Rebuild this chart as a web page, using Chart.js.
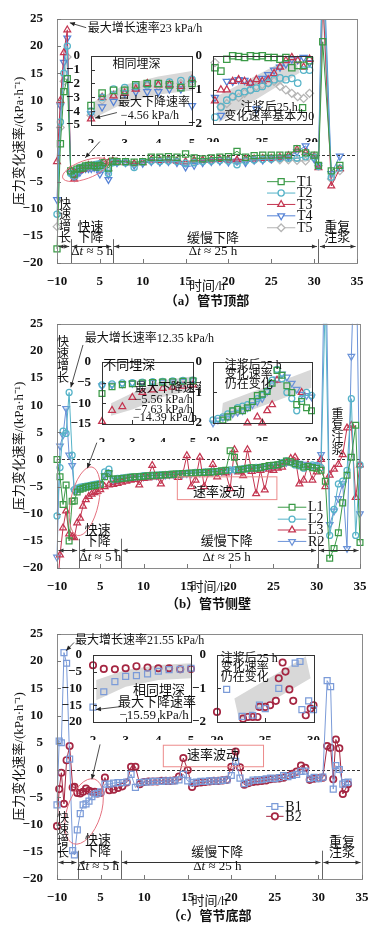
<!DOCTYPE html>
<html><head><meta charset="utf-8">
<script src="https://cdn.jsdelivr.net/npm/chart.js@4.4.1/dist/chart.umd.min.js"></script>
<style>
html,body{margin:0;padding:0;background:#fff;}
#wrap{position:relative;width:381px;height:935px;overflow:hidden;background:#fff;}
canvas{position:absolute;}
</style></head><body><div id="wrap"></div>
<script>
// ---------------- DATA ----------------
const xTickLabels = ['−10','5','10','15','20','25','30','35'];

// (a) pipe crown
const timeA = [0,0.4,0.8,1.2,1.6,2,2.33,2.67,3,3.33,3.67,4,4.33,4.67,5,5.5,6,6.5,7,8,9,10,11,12,13,14,15,16,17,18,19,20,21,22,23,24,25,26,27,28,29,30,30.5,31,32,33];
const T1 = [-17.4,2,11.6,14,-3,-3.6,-2.7,-2.5,-2.5,-2.1,-2.0,-2.0,-2.1,-2.3,-2.0,-1.5,-2.5,-1.2,-1.3,-1.3,-1.4,-1.3,-0.5,-0.5,-0.4,-0.5,0.1,-0.6,-0.8,-0.6,-0.5,-0.4,0.6,-0.5,-0.2,-0.1,-0.1,-0.1,-0.1,1.1,0.3,-0.1,-2.0,20.8,-3.0,-2.0];
const T2 = [-11,6,15,20,-3.5,-4.0,-3.0,-2.4,-2.3,-2.2,-2.1,-2.0,-1.9,-1.8,-1.7,-2.5,-3.5,-1.5,-1.4,-1.5,-2.4,-1.4,-1.2,-1.3,-1.2,-1.3,-1.6,-1.5,-1.3,-1.2,-1.1,-1.2,-1.9,-1.2,-1.0,-0.9,-0.8,-0.7,-0.7,-0.7,-0.4,-0.5,-2.2,35,-4.2,-2.5];
const T3 = [-1.3,10,18.8,23.0,-2.8,-4.56,-3.0,-2.9,-2.7,-2.4,-2.0,-2.1,-2.1,-2.2,-1.7,-1.3,-1.5,-1.2,-1.4,-1.5,-1.7,-1.5,-1.0,-1.1,-1.0,-1.2,-1.3,-1.1,-1.0,-1.0,-0.9,-1.0,-1.0,-0.8,-0.8,-0.7,-0.7,-0.5,-0.2,0.9,0.4,-0.3,-2.4,30,-5.8,-2.6];
const T4 = [-8.3,9,17,21.5,-3.5,-4.2,-3.7,-3.3,-2.7,-2.6,-2.6,-2.6,-2.4,-2.4,-3.6,-2.0,-4.6,-1.3,-1.5,-1.5,-2.0,-1.6,-1.3,-1.4,-1.3,-1.5,-2.3,-2.0,-1.5,-1.3,-1.2,-1.4,-1.2,-1.5,-1.0,-1.0,-0.8,-0.6,-0.4,0.5,1.6,-0.8,-2.0,40,-3.5,-0.3];
const T5 = [-13.3,5,13.5,18,-3.2,-4.3,-3.2,-2.8,-2.5,-2.3,-2.2,-2.2,-2.0,-2.0,-1.9,-1.6,-3.0,-1.2,-1.3,-1.4,-1.7,-1.4,-1.2,-1.2,-1.1,-1.2,-1.5,-1.3,-1.2,-1.1,-1.1,-1.0,-1.2,-1.1,-1.0,-0.9,-0.9,-1.0,-1.0,-1.1,-1.2,-0.7,-2.0,28,-4.5,-3.0];
// (a) right inset (20-30 h)
const insetA2Time = [20.2,20.8,21.4,22,22.6,23.2,23.8,24.4,25,25.6,26.2,26.8,27.4,28,28.6,29.2,29.8];
const insetA2_T1 = [-0.35,-0.45,-0.1,0,-0.02,-0.05,0,-0.02,0,-0.05,-0.05,-0.1,-0.05,-0.35,-0.28,-0.28,-0.14];
const insetA2_T2 = [-1.8,-1.5,-1.3,-1.2,-1.1,-1.05,-1.0,-0.95,-0.9,-0.8,-0.7,-0.65,-0.7,-0.66,-0.8,-0.42,-0.42];
const insetA2_T3 = [-1.32,-1.0,-1.0,-0.75,-0.7,-0.75,-0.8,-0.7,-0.75,-0.7,-0.52,-0.33,-0.14,-0.05,-0.14,-0.33,-0.1];
const insetA2_T4 = [-1.22,-1.75,-0.75,-0.75,-0.7,-0.72,-0.8,-1.56,-0.66,-0.55,-0.42,-0.33,-0.24,-0.1,-0.12,-0.05,-0.2];
const insetA2_T5 = [-0.2,-1.5,-1.4,-1.2,-1.22,-1.1,-1.0,-0.9,-0.85,-0.8,-0.75,-0.9,-1.0,-1.1,-1.2,-1.25,-1.1];

// (b) side wall
const timeB = [0,0.35,0.7,1.05,1.4,1.75,2,2.33,2.67,3,3.33,3.67,4,4.33,4.67,5,5.5,6,6.5,7,7.5,8,8.5,9,9.5,10,10.5,11,11.5,12,12.5,13,13.5,14,14.5,15,15.5,16,16.5,17,17.5,18,18.5,19,19.5,20,20.5,21,21.5,22,22.5,23,23.5,24,24.5,25,25.5,26,26.5,27,27.5,28,28.5,29,29.5,30,30.5,31,31.5,32,32.5,33,33.5,34,34.5,35];
const L1 = [0,-3.2,-8.3,-4.7,-15,-7.7,-7.63,-6.0,-5.5,-5.3,-5.1,-5.0,-4.9,-4.8,-4.7,-4.6,-3.2,-2.6,-3.6,-3.6,-3.5,-3.4,-3.3,-3.2,-3.2,-3.1,-3.0,-3.0,-2.9,-2.9,-2.8,-2.8,-2.7,-2.7,-2.6,-2.6,-2.5,-2.5,-2.4,-2.4,-2.3,-2.3,-2.2,-2.1,-2.0,1.6,0.4,-1.9,-1.8,-1.6,-1.55,-1.6,-1.5,-1.3,-1.1,-1.06,-0.97,-0.7,-0.28,-0.44,-0.78,-1.0,-1.4,-1.3,-1.5,-1.6,-2,-4,-18.2,-16.4,-13.5,-8,-2.9,0.4,6.3,-15.3];
const L2 = [-10.4,-1.5,5.2,4.8,12.35,0.8,-5.56,-5.3,-5.1,-5.0,-4.9,-4.8,-4.7,-4.6,-4.5,-4.4,-2.3,-1.8,-3.6,-3.5,-3.4,-3.3,-3.2,-3.2,-3.1,-3.0,-3.0,-2.9,-2.9,-2.8,-2.8,-2.7,-2.7,-2.6,-2.6,-2.5,-2.5,-2.4,-2.4,-2.3,-2.3,-2.2,-2.2,-2.1,-2.0,-1.9,-1.85,-1.8,-1.7,-1.6,-1.5,-1.45,-1.4,-1.3,-1.2,-1.1,-0.95,-0.6,-0.25,-0.56,-1.0,-1.2,-1.6,-1.2,-1.0,-1.1,-1.5,30,-14,-9.2,-4.5,-4.0,-2,11.2,-14,-1];
const L3 = [-25,-17.6,-12.6,-9.5,-13.7,-14.2,-14.39,-11.7,-10.8,-8.6,-7.4,-6.8,-6.4,-6.1,-5.9,-5.56,-5.0,-4.7,-4.6,-4.4,-4.2,-4.0,-3.8,-3.7,-4.7,-3.5,-3.4,-1.1,-3.2,-4.5,-3.0,-3.0,-2.9,-3.3,-2.8,0.7,-5.0,-3.8,0.4,-5.0,-2.6,-0.9,-3.2,-2.4,-2.5,-5.4,1.8,-2.3,-3.0,1.8,-2.2,-6.3,-2.0,-5.6,-1.8,-2.0,-1.6,-1.4,-0.6,0.2,0.4,-4.5,-3.8,-1.0,-3.8,-2.3,0.0,-5,-2.9,-1.8,-0.9,0.9,5.8,6.3,-7,-1];
const R2 = [-18,2.5,4.5,9.4,0.8,-1.1,-5.8,-5.6,-5.4,-5.2,-5.1,-5.0,-4.9,-4.8,-4.7,-4.6,-3.0,-2.5,-3.8,-3.7,-3.5,-3.4,-3.4,-3.3,-3.2,-3.2,-3.1,-3.0,-3.0,-2.9,-2.9,-2.8,-2.8,-2.7,-2.7,-2.6,-2.6,-2.5,-2.5,-2.4,-2.4,-2.3,-2.3,-2.2,-2.1,-2.0,-1.9,-1.82,-1.8,-1.7,-1.65,-1.6,-1.5,-1.4,-1.3,-1.2,-0.97,-0.7,-0.56,-0.4,-0.5,-0.7,-0.9,-1.06,-1.1,-1.15,0.9,45,-12,-9.5,-7.2,-4.5,-16.4,19,45,-10];

// (c) invert
const timeC = [0,0.25,0.5,0.8,1.1,1.45,1.8,2,2.33,2.67,3,3.33,3.67,4,4.33,4.67,5,5.5,6,6.5,7,7.5,8,8.5,9,9.5,10,10.5,11,11.5,12,12.5,13,13.5,14,14.5,15,15.5,16,16.5,17,17.5,18,18.5,19,19.5,20,20.5,21,21.5,22,22.5,23,23.5,24,24.5,25,25.5,26,26.5,27,27.5,28,28.5,29,29.5,30,30.5,31,31.4,31.7,32,32.4,32.8,33.1,33.4];
const B1 = [-6.4,5.3,5.0,21.55,19.6,2.0,-14.8,-15.59,-11.0,-8.0,-6.4,-6.2,-5.7,-4.9,-4.4,-4.3,-4.0,-2.6,-2.6,-2.4,-2.3,-2.3,-2.2,-0.8,-3.2,-2.3,-2.2,-2.2,-2.1,-2.1,-2.1,-2.0,-2.0,-2.0,-1.8,-0.8,-2.0,-2.3,-2.2,-2.1,-2.1,-2.0,-2.0,-2.0,-1.9,-1.8,-1.0,1.6,-1.5,-2.5,-2.2,-1.85,-1.8,-1.75,-1.6,-1.5,-1.6,-1.4,-1.0,-1.2,-1.0,-0.8,-0.25,-0.2,-1.6,-1.35,-1.6,-1.3,16.4,15.3,-3.5,0.8,0.1,-2.6,-2.3,-2.2];
const B2 = [-10.3,-3.5,-0.5,-6.2,1.8,4.4,-3.2,-3.1,-4.2,-4.3,-4.0,-3.4,-3.8,-4.0,-4.0,-4.3,-4.2,-1.4,-3.7,-3.6,-3.3,-3.0,-2.3,0.6,0.6,-2.6,-2.2,-2.1,-2.1,-2.1,-2.0,-2.0,-2.0,-1.9,-1.2,2.2,0.0,-3.1,-2.4,-2.3,-2.2,-2.1,-2.0,-2.0,-1.9,-1.8,0.6,3.4,0.5,-2.7,-2.4,-2.2,-2.1,-2.0,-1.9,-1.7,-1.6,-1.55,-1.4,-1.1,-0.7,-0.3,0.8,0.4,-1.8,-1.6,-1.5,-1.4,4.4,4.1,-1.7,5.6,4.0,-4.4,-3.5,-2.6];
// (c) right inset (20-30 h)
const insetC2Time_B1 = [21,22.6,23.7,24.4,25,26.4,28.1,28.6,28.8,29.5,30];
const insetC2_B1 = [-1.03,-1.83,-1.8,-1.5,-1.6,-1.0,-0.25,-0.2,-1.63,-1.37,-1.63];
const insetC2Time_B2 = [20,22.7,23.2,23.7,24.2,24.4,25,25.5,26.1,26.4,26.8,27.1,27.5,27.9,29.2,29.7,30];
const insetC2_B2 = [-1.7,-1.9,-1.85,-1.85,-1.85,-1.55,-1.55,-1.5,-1.37,-0.7,-0.23,-0.5,-1.03,-1.37,-1.8,-1.6,-1.5];

// ---------------- STYLE ----------------
const FONT = '"Liberation Serif","Noto Sans CJK SC",serif';
const f = (s, w) => (w || 'normal') + ' ' + s + 'px ' + FONT;
const STY = {
  T1:{color:'#3b9a47',style:'rect',rot:0,r:4.3},
  T2:{color:'#56b3c8',style:'circle',rot:0,r:3.1},
  T3:{color:'#c43550',style:'triangle',rot:0,r:3.9},
  T4:{color:'#5683d6',style:'triangle',rot:180,r:3.9},
  T5:{color:'#b5b5b5',style:'rectRot',rot:0,r:3.8},
  L1:{color:'#3b9a47',style:'rect',rot:0,r:4.1},
  L2:{color:'#56b3c8',style:'circle',rot:0,r:3.0},
  L3:{color:'#c43550',style:'triangle',rot:0,r:3.9},
  R2:{color:'#6b93d8',style:'triangle',rot:180,r:3.8},
  B1:{color:'#7b9bd8',style:'rect',rot:0,r:4.2},
  B2:{color:'#a52642',style:'circle',rot:0,r:3.2,bw:1.7}
};

function pts(xs, ys, lo, hi){
  const out=[];
  xs.forEach((x,i)=>{const y=ys[i]; if(y===null||y===undefined) return;
    if(lo!==undefined && (x<lo-1e-6||x>hi+1e-6)) return; out.push({x:x,y:y});});
  return out;
}
function mkDs(label, xs, ys, st, opt){
  opt=opt||{};
  const line = opt.line!==false;
  return {label:label, data:pts(xs,ys,opt.lo,opt.hi), borderColor:st.color, backgroundColor:'rgba(0,0,0,0)',
    borderWidth: line?1:0, showLine: line, pointStyle: st.style, pointRotation: st.rot,
    pointRadius: st.r*(opt.rs||1), pointBorderWidth: st.bw||1.25, pointBorderColor: st.color,
    pointBackgroundColor:'rgba(255,255,255,0)', tension:0,
    clip: opt.clip || {left:6,right:4,top:0,bottom:0}};
}
function fmt(v){ v=Math.round(v*100)/100; return (v<0?'−':'')+Math.abs(v); }

function drawMarker(c, st, x, y){
  const r=st.r; c.save(); c.strokeStyle=st.color; c.lineWidth=st.bw||1.25; c.fillStyle='#fff'; c.beginPath();
  if(st.style==='circle'){ c.arc(x,y,r,0,2*Math.PI); }
  else if(st.style==='rect'){ const s=r*Math.SQRT1_2; c.rect(x-s,y-s,2*s,2*s); }
  else if(st.style==='rectRot'){ c.moveTo(x,y-r); c.lineTo(x+r,y); c.lineTo(x,y+r); c.lineTo(x-r,y); c.closePath(); }
  else { let rad=(st.rot||0)*Math.PI/180; for(let k=0;k<3;k++){const X=x+Math.sin(rad)*r, Y=y-Math.cos(rad)*r; if(k) c.lineTo(X,Y); else c.moveTo(X,Y); rad+=2*Math.PI/3;} c.closePath(); }
  c.fill(); c.stroke(); c.restore();
}
function head(c, x, y, ang, len, w){
  c.beginPath(); c.moveTo(x,y);
  c.lineTo(x-len*Math.cos(ang)+w*Math.sin(ang), y-len*Math.sin(ang)-w*Math.cos(ang));
  c.lineTo(x-len*Math.cos(ang)-w*Math.sin(ang), y-len*Math.sin(ang)+w*Math.cos(ang));
  c.closePath(); c.fill();
}
function drawRich(c, parts, x, y, size){
  let total=0; const ws=[];
  parts.forEach(p=>{ c.font=(p.i?'italic ':'')+size+'px '+FONT; const w=c.measureText(p.s).width; ws.push(w); total+=w; });
  let cx=x-total/2; c.textAlign='left';
  parts.forEach((p,i)=>{ c.font=(p.i?'italic ':'')+size+'px '+FONT; c.fillText(p.s,cx,y); cx+=ws[i]; });
}
const DT5 = [{s:'Δ'},{s:'t',i:true},{s:' ≈ 5 h'}];
const DT25 = [{s:'Δ'},{s:'t',i:true},{s:' ≈ 25 h'}];

function drawAnn(c, an, sx, sy, a){
  c.save(); c.fillStyle='#111'; c.strokeStyle='#222'; c.textBaseline='middle';
  const size = an.size||12;
  if(an.t==='text'){ c.font=f(size); c.textAlign=an.align||'center'; c.fillText(an.s, sx(an.x), sy(an.y)); }
  else if(an.t==='rich'){ drawRich(c, an.parts, sx(an.x), sy(an.y), 13); }
  else if(an.t==='vtext'){ c.font=f(size); c.textAlign='center'; [...an.s].forEach((ch,i)=>c.fillText(ch, sx(an.x), sy(an.ys[i]))); }
  else if(an.t==='arrow'){ const x1=sx(an.x1),y1=sy(an.y1),x2=sx(an.x2),y2=sy(an.y2);
    c.lineWidth=0.8; c.beginPath(); c.moveTo(x1,y1); c.lineTo(x2,y2); c.stroke();
    c.fillStyle='#222'; head(c,x2,y2,Math.atan2(y2-y1,x2-x1),5,2.2); }
  else if(an.t==='ellipse'){ c.strokeStyle=an.color||'#e4717f'; c.lineWidth=1; c.beginPath();
    c.ellipse(sx(an.x), sy(an.y), an.rx, an.ry, an.rot*Math.PI/180, 0, 2*Math.PI); c.stroke(); }
  else if(an.t==='rect'){ c.strokeStyle=an.color||'#ec8a8a'; c.lineWidth=1;
    const x1=sx(an.x1),x2=sx(an.x2),y1=sy(an.y1),y2=sy(an.y2); c.strokeRect(x1,y1,x2-x1,y2-y1); }
  else if(an.t==='marker'){ drawMarker(c, an.st, sx(an.x), sy(an.y)); }
  else if(an.t==='phase'){
    c.strokeStyle='#666'; c.lineWidth=1;
    const yy=Math.round(sy(an.y))+0.5, top=sy(an.top);
    an.bounds.forEach((b,i)=>{ if(i>0 && i<an.bounds.length-1){ const X=Math.round(sx(b))+0.5; c.beginPath(); c.moveTo(X,top); c.lineTo(X,a.bottom); c.stroke(); } });
    c.fillStyle='#333';
    for(let i=0;i<an.bounds.length-1;i++){
      const x0=sx(an.bounds[i])+1.5, x1=sx(an.bounds[i+1])-1.5;
      c.strokeStyle='#333'; c.beginPath(); c.moveTo(x0,yy); c.lineTo(x1,yy); c.stroke();
      head(c,x0,yy,Math.PI,5,2); head(c,x1,yy,0,5,2);
    }
  }
  else if(an.t==='legend'){
    an.items.forEach((it,i)=>{ const Y=sy(an.ys[i]), X1=sx(an.x1), X2=sx(an.x2);
      c.strokeStyle=it.color; c.lineWidth=1; c.beginPath(); c.moveTo(X1,Y); c.lineTo(X2,Y); c.stroke();
      drawMarker(c,it,(X1+X2)/2,Y);
      c.fillStyle='#111'; c.font=f(14); c.textAlign='left'; c.fillText(it.label, sx(an.xt), Y+0.5); });
  }
  c.restore();
}

function decor(cfg){
  return {id:'decor',
    beforeDraw(ch){ if(cfg.inset){ const a=ch.chartArea,c=ch.ctx; c.save(); c.fillStyle='#fff'; c.fillRect(a.left,a.top,a.right-a.left,a.bottom-a.top); c.restore(); } },
    beforeDatasetsDraw(ch){
      const c=ch.ctx,a=ch.chartArea,sx=v=>ch.scales.x.getPixelForValue(v),sy=v=>ch.scales.y.getPixelForValue(v);
      c.save(); c.beginPath(); c.rect(a.left,a.top,a.right-a.left,a.bottom-a.top); c.clip();
      (cfg.bands||[]).forEach(b=>{ c.fillStyle='#d8d8d8'; c.beginPath(); b.forEach((p,i)=>{const X=sx(p[0]),Y=sy(p[1]); if(i) c.lineTo(X,Y); else c.moveTo(X,Y);}); c.closePath(); c.fill(); });
      if(cfg.zero){ c.strokeStyle='#333'; c.lineWidth=1; c.setLineDash([3,2]); const y=Math.round(sy(0))+0.5; c.beginPath(); c.moveTo(a.left,y); c.lineTo(a.right,y); c.stroke(); c.setLineDash([]); }
      c.restore();
    },
    afterDatasetsDraw(ch){
      const c=ch.ctx,a=ch.chartArea,sx=v=>ch.scales.x.getPixelForValue(v),sy=v=>ch.scales.y.getPixelForValue(v);
      c.save();
      c.strokeStyle=cfg.inset?'#333':'#8a8a8a'; c.lineWidth=1;
      c.strokeRect(Math.round(a.left)+0.5,Math.round(a.top)+0.5,Math.round(a.right-a.left),Math.round(a.bottom-a.top));
      c.strokeStyle=cfg.inset?'#333':'#777';
      ch.scales.x.ticks.forEach(t=>{const X=Math.round(sx(t.value))+0.5; c.beginPath(); c.moveTo(X,a.bottom); c.lineTo(X,a.bottom-4); c.stroke();});
      ch.scales.y.ticks.forEach(t=>{const Y=Math.round(sy(t.value))+0.5; c.beginPath(); c.moveTo(a.left,Y); c.lineTo(a.left+4,Y); c.stroke();});
      c.restore();
      (cfg.ann||[]).forEach(an=>drawAnn(c,an,sx,sy,a));
      c.save(); c.fillStyle='#111'; c.textBaseline='middle'; c.textAlign='center';
      const cx=(a.left+a.right)/2;
      if(cfg.xTitle){ c.font=f(13); c.fillText(cfg.xTitle, cx, a.bottom+cfg.xTitleDy); }
      if(cfg.caption){ c.font=f(13,'bold'); c.fillText(cfg.caption, cx, a.bottom+cfg.capDy); }
      if(cfg.yTitle){ c.translate(cfg.yTitleX,(a.top+a.bottom)/2); c.rotate(-Math.PI/2); c.font=f(13); c.fillText(cfg.yTitle,0,0); }
      c.restore();
    }
  };
}

function build(cfg){
  const cv=document.createElement('canvas');
  cv.width=cfg.w; cv.height=cfg.h;
  cv.style.left=cfg.left+'px'; cv.style.top=cfg.top+'px'; cv.style.width=cfg.w+'px'; cv.style.height=cfg.h+'px';
  document.getElementById('wrap').appendChild(cv);
  const [L,T,R,B]=cfg.rect;
  const yW=L-cfg.left, xH=cfg.top+cfg.h-B, pt=T-cfg.top, pr=cfg.left+cfg.w-R;
  const fs=cfg.fs||13;
  return new Chart(cv,{type:'line',data:{datasets:cfg.datasets},options:{
    responsive:false,animation:false,devicePixelRatio:1,events:[],
    layout:{padding:{top:pt,right:pr,left:0,bottom:0}},
    plugins:{legend:{display:false},tooltip:{enabled:false}},
    scales:{
      x:{type:'linear',min:cfg.x[0],max:cfg.x[1],afterFit:s=>{s.height=xH;},
         grid:{display:false},border:{display:false},
         ticks:{stepSize:cfg.x[2],autoSkip:false,maxRotation:0,padding:cfg.xpad||3,color:'#111',font:{family:FONT,size:fs,weight:'bold'},
                callback:cfg.xcb||(v=>fmt(v))}},
      y:{type:'linear',min:cfg.y[0],max:cfg.y[1],afterFit:s=>{s.width=yW;},
         grid:{display:false},border:{display:false},
         ticks:{stepSize:cfg.y[2],autoSkip:false,padding:cfg.ypad||6,color:'#111',font:{family:FONT,size:fs,weight:'bold'},callback:v=>fmt(v)}}
    }},plugins:[decor(cfg)]});
}
function inset(rect, x, y, datasets, bands, ann){
  const [L,T,R,B]=rect;
  return build({left:L-32,top:T-8,w:R-L+32+8,h:B-T+8+18,rect:rect,inset:true,x:x,y:y,datasets:datasets,bands:bands,ann:ann,fs:13,xpad:3,ypad:3});
}
const xcbMain = v => xTickLabels[Math.round(v/5)];
const ICLIP = {left:5,right:5,top:5,bottom:5};
const YT = '压力变化速率/(kPa·h⁻¹)';

// ---------------- PANEL (a) ----------------
build({left:0,top:0,w:381,h:310,rect:[57,19,357,263],x:[0,35,5],y:[-20,25,5],xcb:xcbMain,zero:true,
  datasets:[mkDs('T1',timeA,T1,STY.T1),mkDs('T2',timeA,T2,STY.T2),mkDs('T3',timeA,T3,STY.T3),mkDs('T4',timeA,T4,STY.T4),mkDs('T5',timeA,T5,STY.T5)],
  xTitle:'时间/h',xTitleDy:24,caption:'（a）管节顶部',capDy:39,yTitle:YT,yTitleX:20,
  ann:[
    {t:'text',x:3.6,y:23.2,s:'最大增长速率23 kPa/h',align:'left'},
    {t:'arrow',x1:3.4,y1:23.4,x2:1.5,y2:24.3},
    {t:'ellipse',x:3.3,y:-2.8,rx:24,ry:9,rot:-20},
    {t:'arrow',x1:5.0,y1:2.4,x2:3.3,y2:-0.6},
    {t:'phase',bounds:[0,1.6,6.5,30.5,35],y:-16.8,top:-15.6},
    {t:'vtext',x:0.93,ys:[-9.2,-11.3,-13.5,-15.5],s:'快速增长'},
    {t:'text',x:3.9,y:-13.5,s:'快速',size:13},{t:'text',x:3.9,y:-15.4,s:'下降',size:13},
    {t:'rich',x:4.1,y:-17.9,parts:DT5},
    {t:'text',x:18.2,y:-15.5,s:'缓慢下降',size:13},
    {t:'rich',x:18.2,y:-17.9,parts:DT25},
    {t:'text',x:32.7,y:-13.5,s:'重复',size:13},{t:'text',x:32.7,y:-15.4,s:'注浆',size:13},
    {t:'legend',x1:24.5,x2:27.8,xt:28.0,ys:[-5,-7.1,-9.2,-11.3,-13.5],
      items:[Object.assign({label:'T1'},STY.T1),Object.assign({label:'T2'},STY.T2),Object.assign({label:'T3'},STY.T3),Object.assign({label:'T4'},STY.T4),Object.assign({label:'T5'},STY.T5)]}
  ]});
inset([91,53,192,125],[2,5,1],[-5,0,1],
  ['T1','T2','T3','T4','T5'].map((k,i)=>mkDs(k,timeA,[T1,T2,T3,T4,T5][i],STY[k],{line:false,lo:2,hi:5,clip:ICLIP,rs:1.05})),
  [[[2.1,-3.3],[3,-2.1],[4,-1.5],[5,-1.1],[5,-2.5],[4,-2.8],[3,-3.4],[2.1,-4.5]]],
  [{t:'text',x:3.35,y:-0.63,s:'相同埋深',size:12},
   {t:'text',x:2.8,y:-3.4,s:'最大下降速率',align:'left'},
   {t:'text',x:3.75,y:-4.37,s:'−4.56 kPa/h',size:12},
   {t:'arrow',x1:2.77,y1:-4.1,x2:2.12,y2:-4.5}]);
inset([213,53,313,124],[20,30,5],[-2,0,1],
  ['T1','T2','T3','T4','T5'].map((k,i)=>mkDs(k,insetA2Time,[insetA2_T1,insetA2_T2,insetA2_T3,insetA2_T4,insetA2_T5][i],STY[k],{line:false,clip:ICLIP,rs:1.05})),
  [[[20.6,-1.95],[28.8,-0.5],[28.2,0],[20.3,-1.2]]],
  [{t:'text',x:25.7,y:-1.52,s:'注浆后25 h'},
   {t:'marker',x:29.1,y:-1.52,st:STY.T1},
   {t:'text',x:25.7,y:-1.8,s:'变化速率基本为0'}]);

// ---------------- PANEL (b) ----------------
build({left:0,top:310,w:381,h:310,rect:[57,318,360,568],x:[0,35,5],y:[-20,25,5],xcb:xcbMain,zero:true,
  datasets:[mkDs('L1',timeB,L1,STY.L1),mkDs('L2',timeB,L2,STY.L2),mkDs('L3',timeB,L3,STY.L3),mkDs('R2',timeB,R2,STY.R2)],
  xTitle:'时间/h',xTitleDy:20,caption:'（b）管节侧壁',capDy:37,yTitle:YT,yTitleX:20,
  ann:[
    {t:'vtext',x:0.7,ys:[21.4,19.3,17.1,14.9],s:'快速增长'},
    {t:'text',x:3.2,y:22.3,s:'最大增长速率12.35 kPa/h',align:'left'},
    {t:'arrow',x1:3.0,y1:21.1,x2:1.6,y2:13.3},
    {t:'ellipse',x:3.2,y:-7.7,rx:14,ry:35,rot:12},
    {t:'arrow',x1:4.6,y1:3.1,x2:3.5,y2:-1.6},
    {t:'rect',x1:13.9,y1:-3.2,x2:25.4,y2:-7.4},
    {t:'text',x:18.7,y:-6.1,s:'速率波动',size:13},
    {t:'phase',bounds:[0,2.5,7.4,30.1,35],y:-16.7,top:-14.6},
    {t:'text',x:4.7,y:-13.1,s:'快速',size:13},{t:'text',x:4.7,y:-15.2,s:'下降',size:13},
    {t:'rich',x:5.0,y:-18,parts:DT5},
    {t:'text',x:19.6,y:-15.2,s:'缓慢下降',size:13},
    {t:'rich',x:19.6,y:-18,parts:DT25},
    {t:'vtext',x:32.4,ys:[8.3,6.1,3.8,1.6],s:'重复注浆'},
    {t:'legend',x1:25.5,x2:28.8,xt:29.0,ys:[-8.8,-11,-13,-15.1],
      items:[Object.assign({label:'L1'},STY.L1),Object.assign({label:'L2'},STY.L2),Object.assign({label:'L3'},STY.L3),Object.assign({label:'R2'},STY.R2)]}
  ]});
inset([102,359,193,424],[2,5,1],[-15,0,5],
  ['L1','L2','L3','R2'].map((k,i)=>mkDs(k,timeB,[L1,L2,L3,R2][i],STY[k],{line:false,lo:2,hi:5,clip:ICLIP})),
  [[[2.3,-13],[3,-11.5],[4,-8.5],[5,-6.8],[5,-3.5],[4,-4.5],[3,-7.5],[2.3,-10]]],
  [{t:'text',x:2.04,y:-0.95,s:'不同埋深',align:'left',size:13},
   {t:'text',x:3.08,y:-6.5,s:'最大下降速率',align:'left'},
   {t:'text',x:3.08,y:-9.2,s:'−5.56 kPa/h',align:'left'},
   {t:'text',x:3.08,y:-11.5,s:'−7.63 kPa/h',align:'left'},
   {t:'text',x:3.02,y:-13.6,s:'−14.39 kPa/h',align:'left'}]);
inset([213,359,313,423],[20,30,5],[-2,0,1],
  ['L1','L2','L3','R2'].map((k,i)=>mkDs(k,timeB,[L1,L2,L3,R2][i],STY[k],{line:false,lo:20,hi:30,clip:ICLIP})),
  [[[20.8,-1.95],[30,-0.85],[30,-0.25],[21,-1.35]]],
  [{t:'text',x:21.2,y:-0.13,s:'注浆后25 h',align:'left'},
   {t:'text',x:21.2,y:-0.44,s:'变化速率',align:'left'},
   {t:'text',x:21.2,y:-0.75,s:'仍在变化',align:'left'}]);

// ---------------- PANEL (c) ----------------
build({left:0,top:620,w:381,h:315,rect:[57,628,362,879],x:[0,35,5],y:[-20,25,5],xcb:xcbMain,zero:true,
  datasets:[mkDs('B1',timeC,B1,STY.B1),mkDs('B2',timeC,B2,STY.B2)],
  xTitle:'时间/h',xTitleDy:23,caption:'（c）管节底部',capDy:38,yTitle:YT,yTitleX:20,
  ann:[
    {t:'text',x:2.07,y:23.7,s:'最大增长速率21.55 kPa/h',align:'left'},
    {t:'arrow',x1:1.95,y1:23.4,x2:1.05,y2:21.9},
    {t:'ellipse',x:3.1,y:-7.6,rx:17,ry:34,rot:18},
    {t:'arrow',x1:4.94,y1:4.7,x2:4.0,y2:-1.7},
    {t:'rect',x1:12.2,y1:4.55,x2:23.7,y2:0.6},
    {t:'text',x:17.9,y:2.6,s:'速率波动',size:13},
    {t:'phase',bounds:[0,2.4,7.3,30.4,35],y:-16.8,top:-14.8},
    {t:'vtext',x:0.7,ys:[-9,-11.2,-13.4,-15.4],s:'快速增长'},
    {t:'text',x:4.7,y:-13,s:'快速',size:13},{t:'text',x:4.7,y:-14.9,s:'下降',size:13},
    {t:'rich',x:4.7,y:-17.8,parts:DT5},
    {t:'text',x:18.4,y:-15.1,s:'缓慢下降',size:13},
    {t:'rich',x:18.4,y:-17.8,parts:DT25},
    {t:'text',x:32.7,y:-13.3,s:'重复',size:13},{t:'text',x:32.7,y:-15.1,s:'注浆',size:13},
    {t:'legend',x1:24.0,x2:26.0,xt:26.2,ys:[-6.7,-8.5],
      items:[Object.assign({label:'B1'},STY.B1),Object.assign({label:'B2'},STY.B2)]}
  ]});
inset([93,652,191,722],[2,5,1],[-20,0,5],
  [mkDs('B1',timeC,B1,STY.B1,{line:false,lo:2,hi:5,clip:ICLIP}),mkDs('B2',timeC,B2,STY.B2,{line:false,lo:2,hi:5,clip:ICLIP})],
  [[[2.1,-13.5],[3,-9.5],[4,-7.5],[5,-7],[5,-2.5],[4,-3],[3,-4.5],[2.1,-7.5]]],
  [{t:'text',x:4.02,y:-10.6,s:'相同埋深',size:13},
   {t:'text',x:3.96,y:-14.3,s:'最大下降速率',size:13},
   {t:'text',x:3.87,y:-18,s:'−15.59 kPa/h',size:13},
   {t:'arrow',x1:2.86,y1:-15.4,x2:2.09,y2:-16.3}]);
inset([217,652,315,722],[20,30,5],[-2,0,1],
  [mkDs('B1',insetC2Time_B1,insetC2_B1,STY.B1,{line:false,clip:ICLIP}),mkDs('B2',insetC2Time_B2,insetC2_B2,STY.B2,{line:false,clip:ICLIP})],
  [[[22.3,-1.95],[29.7,-0.7],[29.2,-0.05],[21.8,-1.3]]],
  [{t:'text',x:20.4,y:-0.12,s:'注浆后25 h',align:'left'},
   {t:'text',x:20.4,y:-0.4,s:'变化速率',align:'left'},
   {t:'text',x:20.4,y:-0.68,s:'仍在变化',align:'left'}]);
</script></body></html>
